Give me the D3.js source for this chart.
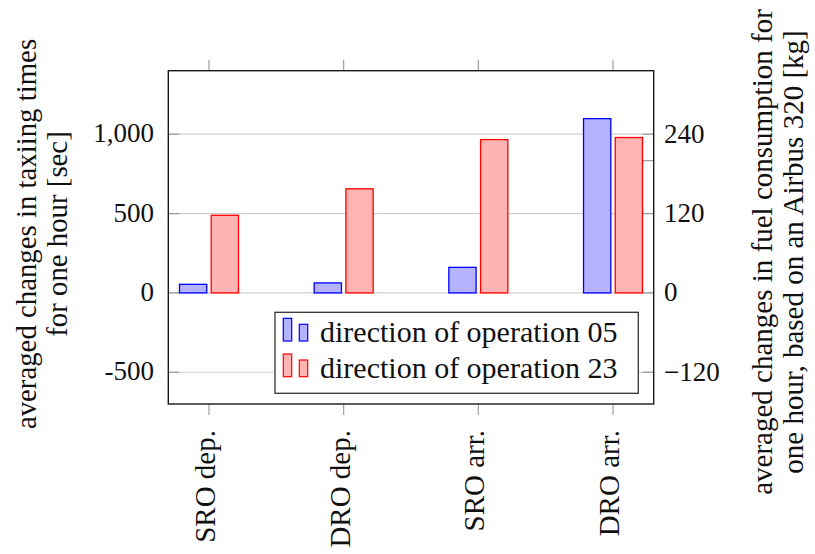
<!DOCTYPE html>
<html>
<head>
<meta charset="utf-8">
<script src="https://cdn.jsdelivr.net/npm/d3@7"></script>
<style>
  html, body { margin: 0; padding: 0; background: #fff; }
  svg { display: block; }
</style>
</head>
<body>
<svg id="chart" width="815" height="554"></svg>
<script>
// Taxiing-time changes per hour, by operating concept and runway direction (seconds)
const categories = ["SRO dep.", "DRO dep.", "SRO arr.", "DRO arr."];
const seriesNames = ["direction of operation 05", "direction of operation 23"];
const dir05 = [54, 63, 161, 1098];
const dir23 = [489, 656, 966, 979];

// Left axis (seconds) and right axis (kg of fuel, 0.24 kg per second of taxiing)
const leftTicks = [-500, 0, 500, 1000];
const leftTickLabels = ["-500", "0", "500", "1,000"];
const rightTicks = [-120, 0, 120, 240];
const rightTickLabels = ["\u2212120", "0", "120", "240"];
const rightExtraTicks = [200];
const fuelPerSecond = 0.24;

const leftTitle = ["averaged changes in taxiing times", "for one hour [sec]"];
const rightTitle = ["averaged changes in fuel consumption for", "one hour, based on an Airbus 320 [kg]"];

const serif = "'Liberation Serif', 'Times New Roman', Tinos, 'DejaVu Serif', 'Noto Serif', serif";

const svg = d3.select("#chart")
  .style("font-family", serif);
const plot = { left: 168.3, right: 653.7, top: 70.7, bottom: 404 };

const yLeft = d3.scaleLinear().domain([-700, 1400]).range([plot.bottom, plot.top]);
const yRight = d3.scaleLinear()
  .domain(yLeft.domain().map(v => v * fuelPerSecond))
  .range([plot.bottom, plot.top]);
const x = d3.scalePoint().domain(categories).range([plot.left, plot.right]).padding(0.302);
const xSub = d3.scaleBand().domain(seriesNames).range([-29.5, 29.5]).paddingInner(0.14);

const colors = {
  [seriesNames[0]]: { fill: "#b3b3ff", stroke: "#0000ff" },
  [seriesNames[1]]: { fill: "#ffb3b3", stroke: "#ff0000" }
};

function label(sel) {
  return sel.attr("font-family", serif).style("font-family", serif).attr("fill", "#111");
}

// Horizontal grid
svg.append("g").selectAll("line").data(leftTicks).join("line")
  .attr("x1", plot.left).attr("x2", plot.right)
  .attr("y1", d => yLeft(d)).attr("y2", d => yLeft(d))
  .attr("stroke", "#cfcfcf").attr("stroke-width", 1.2);

// Inward ticks on the left axis
svg.append("g").selectAll("line").data(leftTicks).join("line")
  .attr("x1", plot.left).attr("x2", plot.left + 11)
  .attr("y1", d => yLeft(d)).attr("y2", d => yLeft(d))
  .attr("stroke", "#9a9a9a").attr("stroke-width", 1.2);

// Inward ticks on the right axis
svg.append("g").selectAll("line").data(rightTicks.concat(rightExtraTicks)).join("line")
  .attr("x1", plot.right - 11).attr("x2", plot.right)
  .attr("y1", d => yRight(d)).attr("y2", d => yRight(d))
  .attr("stroke", "#9a9a9a").attr("stroke-width", 1.2);

// Outward category ticks, top and bottom
const xt = svg.append("g");
xt.selectAll("line.b").data(categories).join("line").attr("class", "b")
  .attr("x1", d => x(d)).attr("x2", d => x(d))
  .attr("y1", plot.bottom).attr("y2", plot.bottom + 11)
  .attr("stroke", "#a6a6a6").attr("stroke-width", 1.3);
xt.selectAll("line.t").data(categories).join("line").attr("class", "t")
  .attr("x1", d => x(d)).attr("x2", d => x(d))
  .attr("y1", plot.top).attr("y2", plot.top - 11)
  .attr("stroke", "#a6a6a6").attr("stroke-width", 1.3);

// Bars
const rows = categories.map((c, i) => ({ cat: c, values: [
  { name: seriesNames[0], value: dir05[i] },
  { name: seriesNames[1], value: dir23[i] }
]}));
svg.append("g").selectAll("g").data(rows).join("g")
  .attr("transform", d => `translate(${x(d.cat)},0)`)
  .selectAll("rect").data(d => d.values).join("rect")
  .attr("x", d => xSub(d.name))
  .attr("width", xSub.bandwidth())
  .attr("y", d => Math.min(yLeft(d.value), yLeft(0)))
  .attr("height", d => Math.abs(yLeft(d.value) - yLeft(0)))
  .attr("fill", d => colors[d.name].fill)
  .attr("stroke", d => colors[d.name].stroke)
  .attr("stroke-width", 1.3);

// Frame
svg.append("rect")
  .attr("x", plot.left).attr("y", plot.top)
  .attr("width", plot.right - plot.left).attr("height", plot.bottom - plot.top)
  .attr("fill", "none").attr("stroke", "#1a1a1a").attr("stroke-width", 1.4);

// Tick labels
label(svg.append("g").selectAll("text").data(leftTicks).join("text"))
  .attr("x", 154).attr("y", d => yLeft(d)).attr("dy", 8)
  .attr("text-anchor", "end").attr("font-size", 27)
  .text((d, i) => leftTickLabels[i]);
label(svg.append("g").selectAll("text").data(rightTicks).join("text"))
  .attr("x", 664).attr("y", d => yRight(d)).attr("dy", 8.5)
  .attr("text-anchor", "start").attr("font-size", 27)
  .text((d, i) => rightTickLabels[i]);

// Category labels (rotated)
label(svg.append("g").selectAll("text").data(categories).join("text"))
  .attr("transform", d => `translate(${x(d)},430) rotate(-90)`)
  .attr("dy", 6)
  .attr("text-anchor", "end").attr("font-size", 29)
  .text(d => d);

// Axis titles
const lt = label(svg.append("text")).attr("transform", "translate(0,234) rotate(-90)")
  .attr("text-anchor", "middle").attr("font-size", 28.8);
lt.selectAll("tspan").data(leftTitle).join("tspan")
  .attr("x", 0).attr("y", (d, i) => 36 + i * 31).text(d => d);

const rt = label(svg.append("text")).attr("transform", "translate(0,252) rotate(-90)")
  .attr("text-anchor", "middle").attr("font-size", 29);
rt.selectAll("tspan").data(rightTitle).join("tspan")
  .attr("x", 0).attr("y", (d, i) => 772 + i * 31).text(d => d);

// Legend
const legend = svg.append("g");
legend.append("rect")
  .attr("x", 275).attr("y", 312.3).attr("width", 363.3).attr("height", 81)
  .attr("fill", "#fff").attr("stroke", "#333").attr("stroke-width", 1.3);
const entries = legend.selectAll("g.entry").data(seriesNames).join("g")
  .attr("class", "entry")
  .attr("transform", (d, i) => `translate(0,${i * 35.7})`);
entries.append("rect")
  .attr("x", 283.3).attr("y", 318.3).attr("width", 8.4).attr("height", 22.7)
  .attr("fill", d => colors[d].fill).attr("stroke", d => colors[d].stroke).attr("stroke-width", 1.2);
entries.append("rect")
  .attr("x", 299.3).attr("y", 324.3).attr("width", 8.4).attr("height", 16.7)
  .attr("fill", d => colors[d].fill).attr("stroke", d => colors[d].stroke).attr("stroke-width", 1.2);
label(entries.append("text"))
  .attr("x", 320).attr("y", 342.3).attr("font-size", 30)
  .text(d => d);
</script>
</body>
</html>
